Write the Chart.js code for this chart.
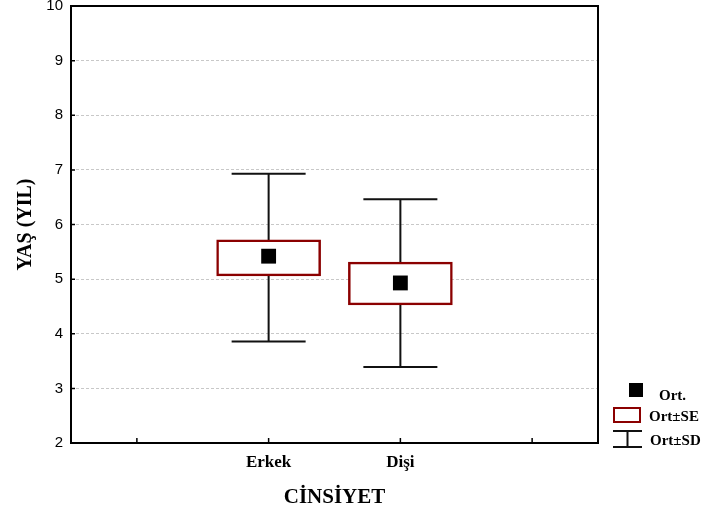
<!DOCTYPE html>
<html>
<head>
<meta charset="utf-8">
<script src="https://cdn.jsdelivr.net/npm/chart.js@4"></script>
<style>
  body { margin: 0; background: #fff; }
  canvas { display: block; }
</style>
</head>
<body>
<canvas id="boxChart" width="707" height="520"></canvas>
<script>
// values
const categories = ['Erkek', 'Dişi'];
const means = [5.42, 4.93];
const seLow = [5.06, 4.53];
const seHigh = [5.72, 5.31];
const sdLow = [3.86, 3.39];
const sdHigh = [6.93, 6.46];
const yTicks = [2, 3, 4, 5, 6, 7, 8, 9, 10];

const serif = 'Liberation Serif';
const sans = 'Liberation Sans';
const boxRed = '#8b0000';

// whiskers go under the white SE boxes
const whiskerPlugin = {
    id: 'whiskers',
    beforeDatasetsDraw(chart) {
        const ctx = chart.ctx;
        const xs = chart.scales.x;
        const ys = chart.scales.y;
        ctx.save();
        ctx.strokeStyle = '#111';
        ctx.lineWidth = 2;
        categories.forEach(function (c, i) {
            const x = xs.getPixelForValue(i + 1);
            const top = ys.getPixelForValue(sdHigh[i]);
            const bot = ys.getPixelForValue(sdLow[i]);
            ctx.beginPath();
            ctx.moveTo(x, top);
            ctx.lineTo(x, bot);
            ctx.moveTo(x - 37, top);
            ctx.lineTo(x + 37, top);
            ctx.moveTo(x - 37, bot);
            ctx.lineTo(x + 37, bot);
            ctx.stroke();
        });
        ctx.restore();
    }
};

// frame, inner tick marks and legend
const framePlugin = {
    id: 'frame',
    afterDraw(chart) {
        const ctx = chart.ctx;
        const a = chart.chartArea;
        const xs = chart.scales.x;
        const ys = chart.scales.y;
        ctx.save();
        ctx.strokeStyle = '#000';
        ctx.lineWidth = 2;
        ctx.strokeRect(a.left, a.top, a.right - a.left, a.bottom - a.top);

        ctx.lineWidth = 1.5;
        ctx.beginPath();
        yTicks.forEach(function (v) {
            const y = ys.getPixelForValue(v);
            ctx.moveTo(a.left, y);
            ctx.lineTo(a.left + 4, y);
        });
        [0, 1, 2, 3].forEach(function (v) {
            const x = xs.getPixelForValue(v);
            ctx.moveTo(x, a.bottom);
            ctx.lineTo(x, a.bottom - 5);
        });
        ctx.stroke();

        // legend
        ctx.fillStyle = '#000';
        ctx.fillRect(629, 383, 14, 14);
        ctx.strokeStyle = boxRed;
        ctx.lineWidth = 2;
        ctx.strokeRect(614, 408, 26, 14);
        ctx.strokeStyle = '#111';
        ctx.beginPath();
        ctx.moveTo(613, 431); ctx.lineTo(642, 431);
        ctx.moveTo(627.5, 431); ctx.lineTo(627.5, 447);
        ctx.moveTo(613, 447); ctx.lineTo(642, 447);
        ctx.stroke();

        ctx.font = 'bold 15px "' + serif + '"';
        ctx.textBaseline = 'middle';
        ctx.fillText('Ort.', 659, 396);
        ctx.fillText('Ort±SE', 649, 417);
        ctx.fillText('Ort±SD', 650, 441);
        ctx.restore();
    }
};

const ctx = document.getElementById('boxChart').getContext('2d');

new Chart(ctx, {
    type: 'bar',
    data: {
        datasets: [{
            label: 'Ort±SE',
            data: categories.map(function (c, i) {
                return { x: i + 1, y: [seLow[i], seHigh[i]] };
            }),
            backgroundColor: '#fff',
            borderColor: boxRed,
            borderWidth: 2.5,
            borderSkipped: false,
            barThickness: 104,
            order: 2
        }, {
            type: 'scatter',
            label: 'Ort.',
            data: categories.map(function (c, i) {
                return { x: i + 1, y: means[i] };
            }),
            pointStyle: 'rect',
            pointRadius: 10.5,
            backgroundColor: '#000',
            borderColor: '#000',
            borderWidth: 0,
            order: 1
        }]
    },
    options: {
        responsive: false,
        animation: false,
        events: [],
        layout: {
            autoPadding: false,
            padding: { left: 0, top: 6, right: 109, bottom: 0 }
        },
        plugins: {
            legend: { display: false },
            tooltip: { enabled: false }
        },
        scales: {
            x: {
                type: 'linear',
                min: -0.5,
                max: 3.5,
                offset: false,
                afterBuildTicks: function (scale) {
                    scale.ticks = [0, 1, 2, 3].map(function (v) { return { value: v }; });
                },
                ticks: {
                    autoSkip: false,
                    maxRotation: 0,
                    padding: 9,
                    color: '#000',
                    font: { family: serif, size: 17, weight: 'bold' },
                    callback: function (v) { return categories[v - 1] || ''; }
                },
                grid: { display: false, drawTicks: false, offset: false },
                border: { display: false },
                title: {
                    display: true,
                    text: 'CİNSİYET',
                    color: '#000',
                    font: { family: serif, size: 21, weight: 'bold' },
                    padding: { top: 0, bottom: 10 }
                },
                afterFit: function (scale) {
                    scale.height = 77;
                    scale.paddingLeft = 0;
                    scale.paddingRight = 0;
                }
            },
            y: {
                min: 2,
                max: 10,
                afterBuildTicks: function (scale) {
                    scale.ticks = yTicks.map(function (v) { return { value: v }; });
                },
                ticks: {
                    padding: 8,
                    color: '#000',
                    font: { family: sans, size: 15 }
                },
                grid: {
                    color: '#c8c8c8',
                    lineWidth: 1,
                    drawTicks: false
                },
                border: { display: false, dash: [3, 2] },
                title: {
                    display: true,
                    text: 'YAŞ (YIL)',
                    color: '#000',
                    font: { family: serif, size: 20, weight: 'bold' },
                    padding: { top: 14, bottom: 0 }
                },
                afterFit: function (scale) {
                    scale.width = 71;
                    scale.paddingTop = 0;
                    scale.paddingBottom = 0;
                }
            }
        }
    },
    plugins: [whiskerPlugin, framePlugin]
});
</script>
</body>
</html>
